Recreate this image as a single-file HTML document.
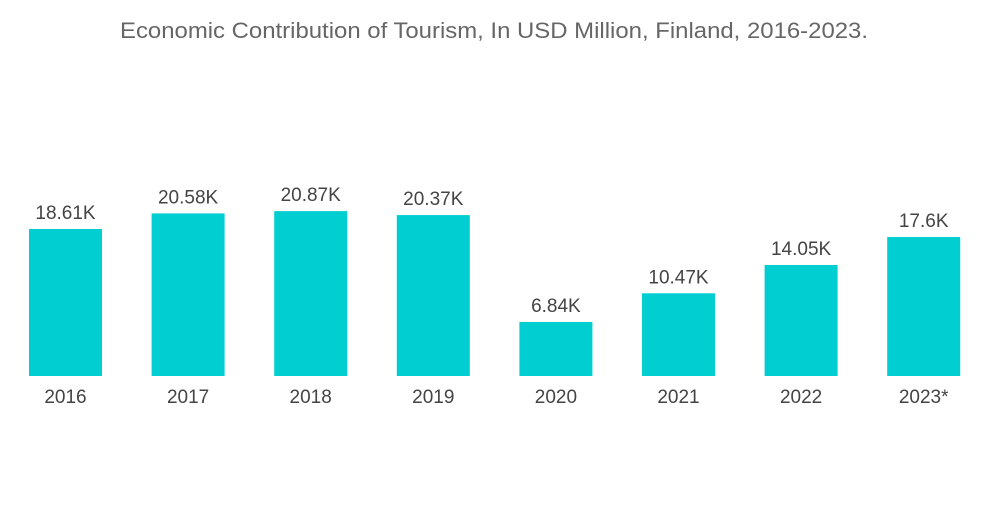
<!DOCTYPE html>
<html><head><meta charset="utf-8"><style>
body{margin:0;background:#fff;width:1000px;height:504px;overflow:hidden;font-family:"Liberation Sans",sans-serif}
</style></head><body>
<svg width="1000" height="504">
<text x="494" y="38" text-anchor="middle" font-size="22" fill="#666" textLength="748" lengthAdjust="spacingAndGlyphs">Economic Contribution of Tourism, In USD Million, Finland, 2016-2023.</text>
<g id="bars"></g>
</svg>
<script>
const categories=["2016","2017","2018","2019","2020","2021","2022","2023*"];
const values=[18.61,20.58,20.87,20.37,6.84,10.47,14.05,17.6];
const valueLabels=["18.61K","20.58K","20.87K","20.37K","6.84K","10.47K","14.05K","17.6K"];
const baseY=376, pxPerK=7.9, x0=29, pitch=122.6, bw=73;
const ns="http://www.w3.org/2000/svg", g=document.getElementById('bars');
const yScale=v=>baseY-v*pxPerK, xScale=i=>x0+i*pitch;
categories.forEach((c,i)=>{
 const r=document.createElementNS(ns,'rect');
 r.setAttribute('x',xScale(i));r.setAttribute('y',yScale(values[i]));
 r.setAttribute('width',bw);r.setAttribute('height',baseY-yScale(values[i]));
 r.setAttribute('fill','#00CED1');
 
 
 g.appendChild(r);
 const t=document.createElementNS(ns,'text');
 t.setAttribute('x',xScale(i)+bw/2);t.setAttribute('y',yScale(values[i])-10);
 t.setAttribute('text-anchor','middle');t.setAttribute('font-size','19');t.setAttribute('fill','#444');
 t.textContent=valueLabels[i];
 
 
 g.appendChild(t);
 const l=document.createElementNS(ns,'text');
 l.setAttribute('x',xScale(i)+bw/2);l.setAttribute('y',403);
 l.setAttribute('text-anchor','middle');l.setAttribute('font-size','19');l.setAttribute('fill','#444');
 l.textContent=c;
 
 
 g.appendChild(l);
});
</script>
</body></html>
